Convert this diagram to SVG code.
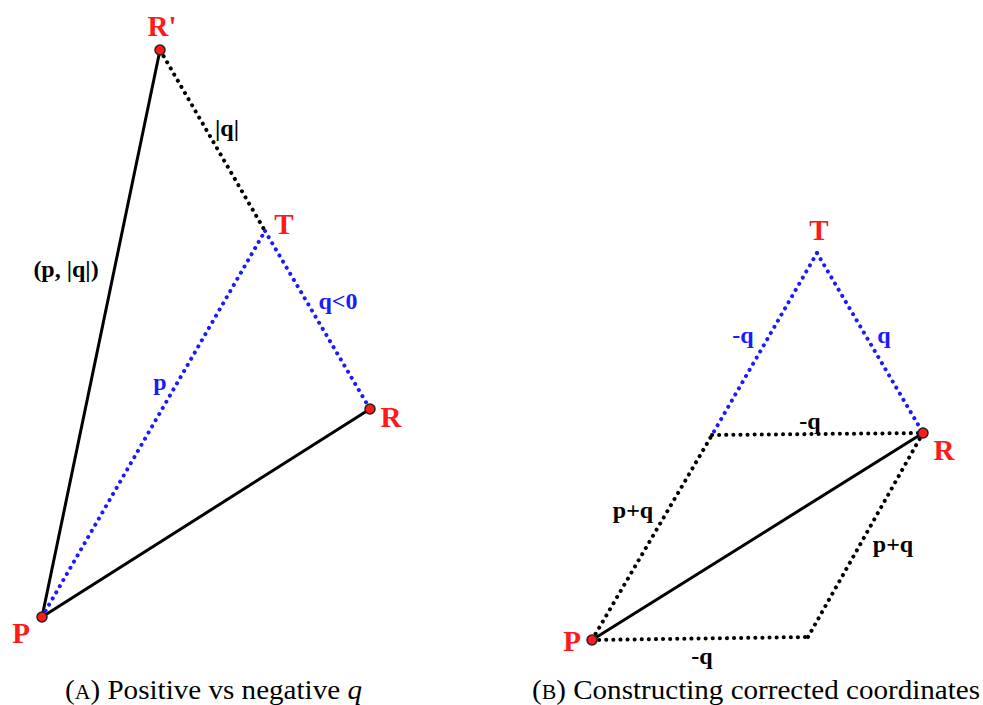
<svg xmlns="http://www.w3.org/2000/svg" width="983" height="705" viewBox="0 0 983 705">
<style>
.solid{stroke:#000;stroke-width:3;fill:none;stroke-linecap:round}
.dotk{stroke:#000;stroke-width:4;fill:none;stroke-linecap:round;stroke-dasharray:0.1 7}
.dotb{stroke:#1a1aff;stroke-width:4;fill:none;stroke-linecap:round;stroke-dasharray:0.1 7}
.pt{fill:#ff1a1a;stroke:#222;stroke-width:1.5}
.name{font-family:"Liberation Serif",serif;font-weight:bold;font-size:29px;fill:#ff1a1a}
.lk{font-family:"Liberation Serif",serif;font-weight:bold;font-size:24px;fill:#000}
.lb{font-family:"Liberation Serif",serif;font-weight:bold;font-size:24px;fill:#1a1aff}
.cap{font-family:"Liberation Serif",serif;font-size:28px;fill:#000}
</style>
<rect width="983" height="705" fill="#fff"/>
<g id="connectors">
  <line class="solid" x1="42" y1="617" x2="160" y2="50"/>
  <line class="solid" x1="42" y1="617" x2="370" y2="409"/>
  <line class="dotk" x1="160" y1="50" x2="265" y2="231"/>
  <line class="dotb" x1="265" y1="231" x2="370" y2="409"/>
  <line class="dotb" x1="42" y1="617" x2="265" y2="231"/>
  <line class="dotb" x1="817" y1="253" x2="712" y2="435"/>
  <line class="dotb" x1="817" y1="253" x2="923" y2="433"/>
  <line class="dotk" x1="712" y1="435" x2="923" y2="433"/>
  <line class="dotk" x1="592" y1="640" x2="712" y2="435"/>
  <line class="dotk" x1="592" y1="640" x2="808" y2="637"/>
  <line class="dotk" x1="808" y1="637" x2="923" y2="433"/>
  <line class="solid" x1="592" y1="640" x2="923" y2="433"/>
</g>
<g id="labels">
  <text class="lk" x="227" y="136" text-anchor="middle">|q|</text>
  <text class="lk" x="66" y="277" text-anchor="middle">(p, |q|)</text>
  <text class="lb" x="160" y="390" text-anchor="middle">p</text>
  <text class="lb" x="338" y="309" text-anchor="middle">q&lt;0</text>
  <text class="lb" x="743" y="343" text-anchor="middle">-q</text>
  <text class="lb" x="884" y="343" text-anchor="middle">q</text>
  <text class="lk" x="810" y="429" text-anchor="middle">-q</text>
  <text class="lk" x="633" y="518" text-anchor="middle">p+q</text>
  <text class="lk" x="893" y="552" text-anchor="middle">p+q</text>
  <text class="lk" x="702" y="664" text-anchor="middle">-q</text>
</g>
<g id="node-Rp-A"><circle class="pt" cx="160" cy="50" r="5"/><text class="name" x="162" y="36" text-anchor="middle">R'</text></g>
<g id="node-T-A"><text class="name" x="284" y="234" text-anchor="middle">T</text></g>
<g id="node-R-A"><circle class="pt" cx="370" cy="409" r="5"/><text class="name" x="391" y="427" text-anchor="middle">R</text></g>
<g id="node-P-A"><circle class="pt" cx="42" cy="617" r="5"/><text class="name" x="21" y="643" text-anchor="middle">P</text></g>
<g id="node-T-B"><text class="name" x="819" y="240" text-anchor="middle">T</text></g>
<g id="node-R-B"><circle class="pt" cx="923" cy="433" r="5"/><text class="name" x="944" y="460" text-anchor="middle">R</text></g>
<g id="node-P-B"><circle class="pt" cx="592" cy="640" r="5"/><text class="name" x="572" y="651" text-anchor="middle">P</text></g>
<g id="captions">
  <text class="cap" x="65" y="699" textLength="297" lengthAdjust="spacingAndGlyphs">(<tspan font-size="21">A</tspan>) Positive vs negative <tspan font-style="italic">q</tspan></text>
  <text class="cap" x="532" y="699" textLength="448" lengthAdjust="spacingAndGlyphs">(<tspan font-size="21">B</tspan>) Constructing corrected coordinates</text>
</g>
</svg>
